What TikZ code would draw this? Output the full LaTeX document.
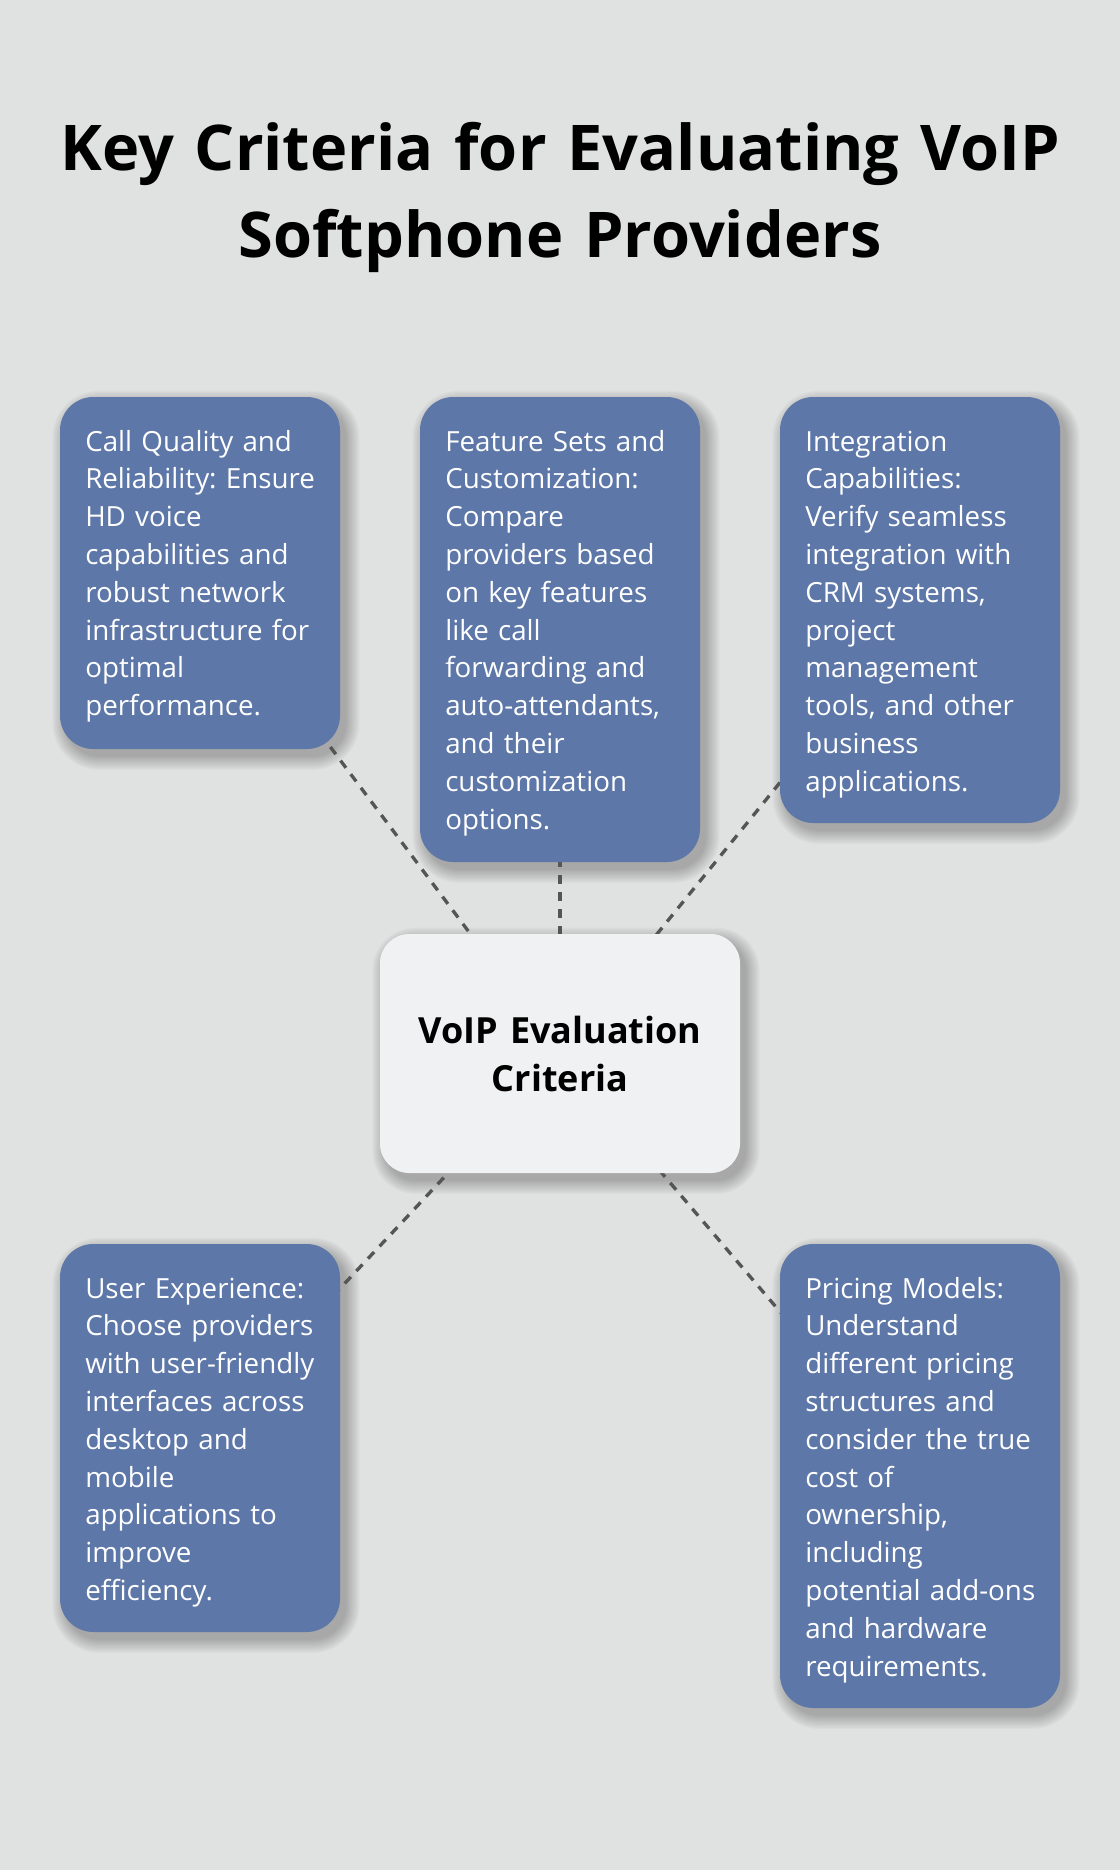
\documentclass[tikz,border=0pt]{standalone}
\usepackage{fontspec}
\setmainfont{Open Sans}
\definecolor{bgc}{RGB}{224,226,225}
\definecolor{boxblue}{RGB}{93,119,168}
\definecolor{ctrbox}{RGB}{240,241,242}
\definecolor{dashc}{RGB}{85,85,85}
\pgfdeclarelayer{back}
\pgfdeclarelayer{shad}
\pgfdeclarelayer{bg}
\pgfsetlayers{back,shad,bg,main}
\tikzset{
  bluebox/.style={fill=boxblue, rounded corners=25pt, inner sep=0pt, minimum width=210pt},
  ctrnode/.style={fill=ctrbox, rounded corners=22pt, inner sep=0pt, minimum width=270pt, minimum height=179.25pt},
  bodytext/.style={text=white, inner sep=0pt, anchor=base west, align=left, text width=200pt,
    font=\fontsize{20.8pt}{28.35pt}\selectfont},
  ctrtext/.style={text=black, inner sep=0pt, anchor=base, align=center, text width=260pt,
    font=\fontsize{27pt}{36pt}\selectfont\bfseries},
  titletext/.style={text=black, inner sep=0pt, anchor=base, align=center, text width=820pt,
    font=\fontsize{47.3pt}{65.25pt}\selectfont\bfseries},
  conn/.style={draw=dashc, line width=2.5pt, dash pattern=on 6.75pt off 6pt},
  shadowpiece/.style={fill=black, opacity=0.022}
}
\newcommand\boxshadow[2]{%
  \foreach \i in {0,...,10}{%
    \pgfmathsetmacro\rr{#2+\i}%
    \fill[shadowpiece, rounded corners=\rr pt]
      ([shift={(4.5pt-\i pt,-5.5pt+\i pt)}]#1.north west) rectangle
      ([shift={(4.5pt+\i pt,-5.5pt-\i pt)}]#1.south east);
  }%
}
\begin{document}
\frenchspacing
\begin{tikzpicture}[x=0.75pt,y=-0.75pt]
\begin{pgfonlayer}{back}
\fill[bgc] (0,0) rectangle (1120,1870);
\end{pgfonlayer}
\useasboundingbox (0,0) rectangle (1120,1870);

\node[titletext] (title) at (560,170) {Key Criteria for Evaluating VoIP\\Softphone Providers};

\node[bluebox, minimum height=264pt] (b1) at (200,573) {};
\node[bluebox, minimum height=348.75pt] (b2) at (560,629.5) {};
\node[bluebox, minimum height=319.5pt] (b3) at (920,610) {};
\node[bluebox, minimum height=291pt] (b4) at (200,1438) {};
\node[bluebox, minimum height=348pt] (b5) at (920,1476) {};
\node[ctrnode] (c) at (560,1053.5) {};

\node[bodytext] (t1) at (85,451) {Call Quality and\\Reliability: Ensure\\HD voice\\capabilities and\\robust network\\infrastructure for\\optimal\\performance.};
\node[bodytext] (t2) at (445,451) {Feature Sets and\\Customization:\\Compare\\providers based\\on key features\\like call\\forwarding and\\auto-attendants,\\and their\\customization\\options.};
\node[bodytext] (t3) at (805,451) {Integration\\Capabilities:\\Verify seamless\\integration with\\CRM systems,\\project\\management\\tools, and other\\business\\applications.};
\node[bodytext] (t4) at (85,1298) {User Experience:\\Choose providers\\with user-friendly\\interfaces across\\desktop and\\mobile\\applications to\\improve\\efficiency.};
\node[bodytext] (t5) at (805,1298) {Pricing Models:\\Understand\\different pricing\\structures and\\consider the true\\cost of\\ownership,\\including\\potential add-ons\\and hardware\\requirements.};

\node[ctrtext] (ct) at (560,1043) {VoIP Evaluation\\Criteria};

\begin{pgfonlayer}{shad}
\boxshadow{b1}{25}
\boxshadow{b2}{25}
\boxshadow{b3}{25}
\boxshadow{b4}{25}
\boxshadow{b5}{25}
\boxshadow{c}{22}
\end{pgfonlayer}

\begin{pgfonlayer}{bg}
\draw[conn] (c.center) -- (b1.center);
\draw[conn] (c.center) -- (b2.center);
\draw[conn] (c.center) -- (b3.center);
\draw[conn] (c.center) -- (b4.center);
\draw[conn] (c.center) -- (b5.center);
\end{pgfonlayer}
\end{tikzpicture}
\end{document}
